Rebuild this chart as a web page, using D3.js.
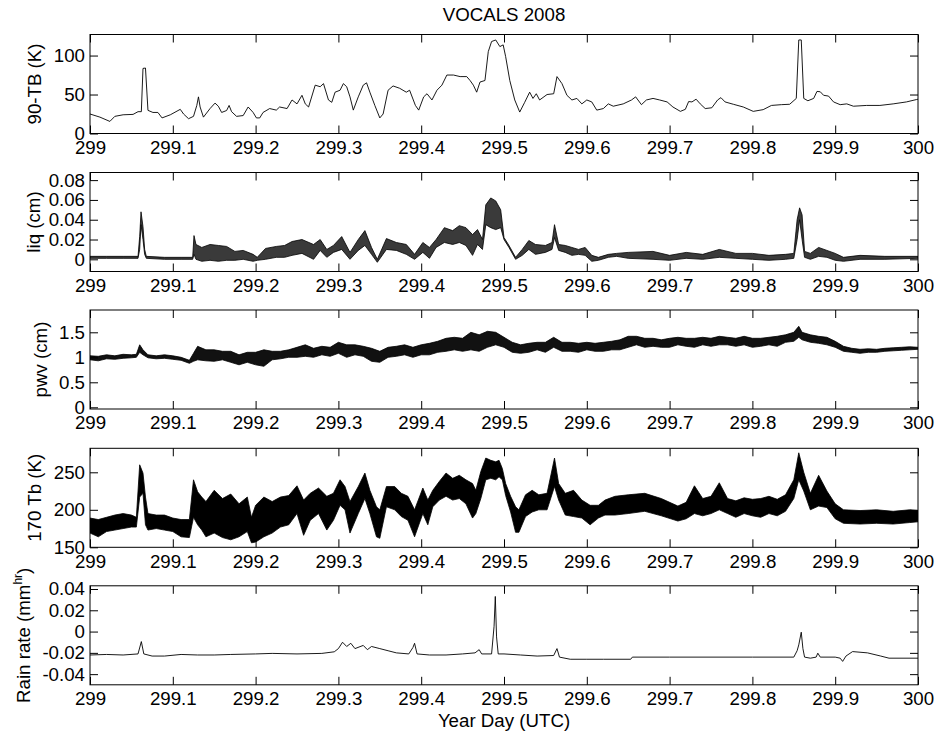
<!DOCTYPE html>
<html>
<head>
<meta charset="utf-8">
<script src="https://cdn.jsdelivr.net/npm/d3@7"></script>
<style>
body { margin: 0; background: #fff; }
text { font-family: "Liberation Sans", Arial, sans-serif; font-size: 18.7px; fill: #000; }
</style>
</head>
<body>
<div id="graph"></div>
<script>
var width = 937, height = 738;

// x axis: year day
var xTicks = [299, 299.1, 299.2, 299.3, 299.4, 299.5, 299.6, 299.7, 299.8, 299.9, 300];

// 90-TB (K)  -- fraction of day after 299, value
var tbDay = [0,.012,.024,.030,.040,.052,.058,.062,.064,.067,.070,.076,.082,.087,.097,.109,.113,.119,.125,.129,.131,.133,.137,.145,.151,.155,.159,.165,.168,.171,.177,.185,.191,.197,.201,.205,.209,.217,.225,.229,.238,.244,.250,.256,.260,.264,.272,.278,.282,.288,.292,.296,.302,.306,.310,.314,.318,.324,.330,.334,.338,.344,.350,.354,.360,.366,.374,.382,.386,.393,.397,.403,.407,.413,.419,.425,.431,.439,.447,.455,.459,.463,.467,.471,.477,.481,.485,.490,.495,.499,.502,.507,.513,.519,.525,.531,.535,.539,.543,.552,.560,.564,.570,.576,.582,.588,.594,.600,.606,.612,.620,.626,.632,.644,.654,.659,.666,.672,.680,.688,.697,.704,.713,.719,.723,.727,.732,.737,.743,.751,.758,.762,.767,.777,.789,.801,.813,.823,.835,.845,.853,.856,.859,.862,.867,.874,.878,.882,.886,.892,.898,.906,.914,.922,.938,.954,.970,.986,.998,1];
var tbVal = [25,21,15.5,22,24,24.5,28,28,83.5,84,29.7,27,27,20,24,31,25,19,22,36,47,34,21,32,39,35,27,29.5,36,28,22,23,34,27,20,20,27,32,30,34,32,43,38,49,38,34,62,60,64,43,40,53,55.5,64,60,47,30,47,62,65,53,36,20,25,55.5,61,58,53,55.5,36,30,47,51,43,55.5,62,75,75,73,73,68,62,53,66,68,105,118,120,111.5,113.7,98.6,68,43,27.5,40,53,45,51,43,50,51,73,64,49,43,45,38,43,40.5,30,32,38,35,38,43,47,37,43,45,43,40.5,34,28.4,31,41,40.5,44,38,32,33,43,46,40.5,37.5,34,28.4,30.6,36,37,37.5,45,120,120,45,42,45,54,53.5,49,48,40.5,37,38,35,36,36,38,40.5,43.5,44];

// liq (cm) -- noisy trace, lower / upper envelope
var liqDay = [0,.02,.04,.058,.060,.0616,.064,.066,.068,.09,.11,.124,.1256,.128,.135,.145,.155,.165,.175,.185,.197,.202,.212,.225,.235,.244,.256,.270,.278,.286,.294,.304,.314,.324,.332,.340,.347,.358,.370,.382,.392,.402,.410,.418,.428,.438,.446,.454,.462,.468,.474,.478,.484,.490,.496,.500,.506,.514,.522,.530,.538,.550,.558,.561,.566,.574,.582,.590,.598,.606,.614,.626,.636,.65,.68,.70,.72,.74,.76,.78,.80,.82,.84,.85,.854,.857,.860,.863,.87,.88,.89,.90,.91,.93,.96,1];
var liqLo = [.001,.001,.001,.001,.010,.035,.020,.005,.001,0,0,0,.005,0,-.002,-.001,-.002,-.001,-.001,0,-.002,-.001,0,.002,.002,.004,.006,0,.009,.002,.007,.010,0,.009,.014,.005,-.003,.010,.009,.005,0,.007,.001,.012,.017,.015,.017,.014,.004,.015,.010,.035,.032,.030,.032,.020,.012,0,.004,.010,.005,.007,.010,.022,.009,.007,.004,.005,.004,-.002,-.001,.002,.003,.001,0,-.001,.001,0,.002,.001,0,-.001,0,.001,.020,.040,.020,.002,0,.003,.002,-.001,-.002,0,0,.001];
var liqHi = [.003,.003,.003,.003,.023,.048,.033,.010,.003,.002,.002,.002,.024,.015,.012,.015,.014,.013,.008,.009,.005,.002,.011,.013,.014,.018,.020,.015,.020,.010,.014,.023,.007,.020,.029,.012,0,.021,.017,.015,.005,.017,.012,.020,.032,.029,.034,.032,.025,.030,.020,.055,.062,.059,.050,.022,.014,.002,.010,.019,.015,.014,.017,.035,.015,.014,.012,.010,.012,.004,.002,.005,.006,.007,.008,.004,.007,.005,.010,.006,.006,.004,.005,.006,.040,.052,.045,.008,.006,.012,.009,.006,.002,.004,.003,.003];

// pwv (cm)
var pwvDay = [0,.01,.02,.03,.04,.05,.056,.060,.064,.07,.08,.09,.10,.11,.12,.125,.13,.14,.15,.16,.17,.18,.19,.20,.21,.22,.23,.24,.25,.26,.27,.28,.29,.30,.31,.32,.33,.34,.35,.36,.37,.38,.39,.40,.41,.42,.43,.44,.45,.46,.47,.48,.49,.50,.51,.52,.53,.54,.55,.56,.57,.58,.59,.60,.61,.62,.63,.64,.65,.66,.67,.68,.69,.70,.71,.72,.73,.74,.75,.76,.77,.78,.79,.80,.81,.82,.83,.84,.85,.856,.86,.87,.88,.89,.90,.91,.92,.93,.94,.95,.96,.97,.98,.99,1];
var pwvLo = [.95,.93,.97,.96,.98,.99,1,1.10,1.05,.99,.97,.98,.96,.94,.88,.92,.95,.93,.92,.95,.90,.85,.90,.85,.82,.95,.97,1,1,1.02,1,1.05,1.02,1.08,1,1.05,1.02,.92,.90,1,1.02,1.05,1,1.05,1.05,1.1,1.12,1.15,1.12,1.15,1.12,1.2,1.25,1.2,1.1,1.08,1.1,1.15,1.1,1.2,1.12,1.12,1.1,1.15,1.12,1.12,1.15,1.15,1.2,1.25,1.2,1.22,1.2,1.2,1.25,1.22,1.2,1.25,1.22,1.25,1.25,1.22,1.25,1.2,1.22,1.25,1.22,1.3,1.32,1.4,1.35,1.3,1.28,1.25,1.2,1.12,1.1,1.08,1.1,1.1,1.12,1.13,1.14,1.15,1.16];
var pwvHi = [1.03,1.02,1.05,1.03,1.06,1.05,1.06,1.25,1.15,1.05,1.03,1.05,1.03,1,.94,1.08,1.22,1.15,1.15,1.12,1.12,1.05,1.1,1.1,1.15,1.12,1.12,1.15,1.2,1.25,1.18,1.22,1.2,1.3,1.25,1.25,1.22,1.18,1.12,1.2,1.22,1.25,1.2,1.25,1.28,1.32,1.38,1.4,1.38,1.5,1.45,1.52,1.5,1.4,1.3,1.25,1.28,1.3,1.3,1.4,1.3,1.3,1.28,1.3,1.28,1.3,1.32,1.35,1.42,1.42,1.38,1.38,1.35,1.38,1.4,1.38,1.38,1.4,1.38,1.42,1.4,1.38,1.42,1.38,1.38,1.4,1.42,1.45,1.5,1.62,1.5,1.45,1.42,1.4,1.32,1.22,1.18,1.16,1.17,1.16,1.18,1.19,1.2,1.21,1.2];

// 170 Tb (K)
var t170Day = [0,.01,.02,.03,.04,.05,.056,.060,.064,.067,.07,.08,.09,.10,.11,.12,.125,.13,.135,.14,.15,.16,.17,.18,.19,.195,.20,.21,.22,.23,.24,.25,.258,.266,.276,.286,.294,.302,.308,.314,.324,.332,.338,.346,.350,.358,.368,.376,.384,.392,.402,.408,.414,.422,.430,.438,.446,.454,.462,.466,.472,.478,.484,.490,.494,.498,.502,.508,.514,.518,.526,.534,.542,.552,.561,.566,.574,.584,.594,.604,.614,.622,.634,.65,.67,.69,.71,.72,.73,.74,.75,.76,.77,.78,.79,.80,.81,.82,.83,.84,.85,.856,.862,.87,.88,.89,.90,.91,.93,.95,.97,.99,1];
var t170Lo = [169,164,171,173,175,177,177,217,222,180,173,175,173,171,164,163,190,180,173,164,169,163,160,164,171,156,157,164,169,177,180,195,166,186,195,173,186,206,200,169,195,215,195,164,162,204,200,191,186,164,195,180,204,213,218,213,215,208,189,195,215,240,242,240,244,240,219,197,170,170,191,197,200,200,231,213,193,191,189,180,189,193,193,195,198,192,185,188,195,192,195,200,195,190,195,192,190,195,192,198,215,240,225,200,205,203,188,182,181,182,181,183,184];
var t170Hi = [189,187,190,193,195,193,190,260,249,217,195,193,193,189,187,187,240,224,217,211,226,215,221,208,217,190,206,217,211,217,219,232,213,222,229,218,222,240,231,211,231,249,226,204,200,231,231,222,218,200,229,213,226,238,249,242,246,240,235,226,251,269,266,264,266,255,235,218,204,200,220,226,220,222,269,235,222,226,213,206,206,213,218,220,222,215,205,210,232,215,218,236,215,212,216,214,215,218,214,220,240,276,250,222,246,225,208,200,199,200,198,200,199];

// Rain rate
var rainDay = [0,.02,.04,.058,.062,.065,.075,.09,.11,.13,.15,.17,.2,.22,.25,.28,.295,.300,.305,.31,.315,.32,.33,.335,.34,.35,.36,.37,.385,.39,.392,.395,.41,.43,.45,.465,.47,.473,.485,.488,.4895,.491,.493,.50,.52,.54,.56,.564,.567,.58,.60,.62,.653,.655,.70,.75,.80,.85,.854,.856,.859,.861,.863,.87,.877,.879,.882,.90,.906,.909,.913,.921,.939,.955,.965,1];
var rainVal = [-.022,-.0215,-.022,-.021,-.0094,-.021,-.023,-.023,-.0215,-.022,-.022,-.0215,-.021,-.0205,-.021,-.0205,-.019,-.016,-.010,-.014,-.011,-.016,-.013,-.017,-.014,-.016,-.018,-.020,-.021,-.015,-.011,-.021,-.022,-.022,-.021,-.020,-.017,-.021,-.021,.005,.033,-.005,-.021,-.021,-.022,-.023,-.0225,-.016,-.024,-.026,-.026,-.026,-.026,-.024,-.024,-.024,-.024,-.024,-.018,-.0125,-.0006,-.016,-.024,-.025,-.024,-.0203,-.024,-.024,-.025,-.028,-.023,-.0188,-.020,-.023,-.025,-.025];

var panels = [
  { top: 34.5,  dom: [0, 127],          ticks: [0, 50, 100],                   label: "90-TB (K)",  lx: 40.5 },
  { top: 172.5, dom: [-0.0123, 0.0877], ticks: [0, 0.02, 0.04, 0.06, 0.08],    label: "liq (cm)",   lx: 39.5 },
  { top: 310,   dom: [-0.034, 1.946],   ticks: [0, 0.5, 1, 1.5],               label: "pwv (cm)",   lx: 46.5 },
  { top: 448.3, dom: [150, 282],        ticks: [150, 200, 250],                label: "170 Tb (K)", lx: 40.5 },
  { top: 585.8, dom: [-0.05, 0.043],    ticks: [-0.04, -0.02, 0, 0.02, 0.04],  label: "Rain rate",  lx: 29.5 }
];
var ph = 99;

var svg = d3.select('#graph').append('svg')
    .attr('width', width)
    .attr('height', height);

var x = d3.scaleLinear().domain([299, 300]).range([90, 918]);

function fmt(d) { return String(+d.toFixed(2)); }

function zipLine(days, vals) {
  return days.map(function(d, i) { return { t: 299 + d, v: vals[i] }; });
}
function zipBand(days, lo, hi) {
  return days.map(function(d, i) { return { t: 299 + d, lo: lo[i], hi: hi[i] }; });
}

var series = [
  { type: "line", data: zipLine(tbDay, tbVal) },
  { type: "band", data: zipBand(liqDay, liqLo, liqHi), fill: "#3a3a3a" },
  { type: "band", data: zipBand(pwvDay, pwvLo, pwvHi), fill: "#111" },
  { type: "band", data: zipBand(t170Day, t170Lo, t170Hi), fill: "#000" },
  { type: "line", data: zipLine(rainDay, rainVal) }
];

panels.forEach(function(p, i) {
  var g = svg.append("g").attr("transform", "translate(0," + p.top + ")");
  var y = d3.scaleLinear().domain(p.dom).range([ph, 0]);

  g.append("clipPath").attr("id", "clip" + i)
    .append("rect").attr("x", 90).attr("y", 0).attr("width", 828).attr("height", ph);

  var s = series[i];
  if (s.type == "line") {
    g.append("path")
      .datum(s.data)
      .attr("clip-path", "url(#clip" + i + ")")
      .attr("fill", "none")
      .attr("stroke", "#000")
      .attr("stroke-width", 0.9)
      .attr("stroke-linejoin", "round")
      .attr("d", d3.line().x(function(d) { return x(d.t); }).y(function(d) { return y(d.v); }));
  } else {
    g.append("path")
      .datum(s.data)
      .attr("clip-path", "url(#clip" + i + ")")
      .attr("fill", s.fill)
      .attr("stroke", "#000")
      .attr("stroke-width", 0.8)
      .attr("d", d3.area().x(function(d) { return x(d.t); })
        .y0(function(d) { return y(d.lo); }).y1(function(d) { return y(d.hi); }));
  }

  // ticks all round, pointing inward
  g.append("g").attr("transform", "translate(0," + ph + ")")
    .call(d3.axisBottom(x).tickValues(xTicks).tickSizeInner(-8).tickSizeOuter(0).tickPadding(7).tickFormat(fmt));
  g.append("g")
    .call(d3.axisTop(x).tickValues(xTicks).tickSizeInner(-8).tickSizeOuter(0).tickFormat(""));
  g.append("g").attr("transform", "translate(90,0)")
    .call(d3.axisLeft(y).tickValues(p.ticks).tickSizeInner(-8).tickSizeOuter(0).tickPadding(5).tickFormat(fmt));
  g.append("g").attr("transform", "translate(918,0)")
    .call(d3.axisRight(y).tickValues(p.ticks).tickSizeInner(-8).tickSizeOuter(0).tickFormat(""));
  g.selectAll(".domain").remove();
  g.selectAll(".tick line").attr("stroke-width", 1);

  g.append("rect")
    .attr("x", 90).attr("y", 0).attr("width", 828).attr("height", ph)
    .attr("fill", "none").attr("stroke", "#000").attr("stroke-width", 1);

  var lab = g.append("text")
    .attr("transform", "translate(" + p.lx + "," + (ph / 2) + ") rotate(-90)")
    .attr("text-anchor", "middle")
    .text(p.label);
  if (i == 4) {
    lab.text("Rain rate (mm");
    lab.append("tspan").attr("dy", -8).style("font-size", "12px").text("hr");
    lab.append("tspan").attr("dy", 8).text(")");
  }
});

svg.append("text")
  .attr("x", 504).attr("y", 20.7)
  .attr("text-anchor", "middle")
  .text("VOCALS 2008");

svg.append("text")
  .attr("x", 504).attr("y", 727)
  .attr("text-anchor", "middle")
  .text("Year Day (UTC)");
</script>
</body>
</html>
